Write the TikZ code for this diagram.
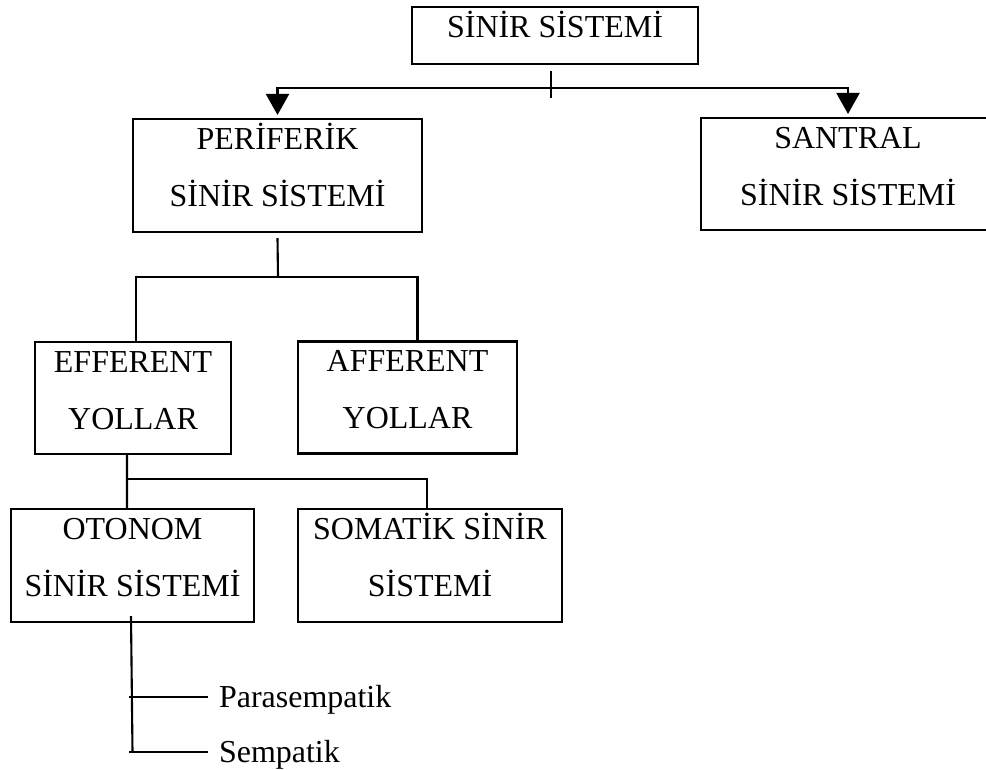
\documentclass[tikz,border=0pt]{standalone}
\usepackage{fontspec}
\setmainfont{Liberation Serif}
\usetikzlibrary{arrows.meta}
\newcommand{\linew}{1.2pt}
\newcommand{\tipw}{0.46cm}
\newcommand{\tipl}{0.42cm}
\newcommand{\boxfont}{\fontsize{18.2}{32.4}\selectfont}

\begin{document}
\begin{tikzpicture}[x=0.02cm, y=-0.02cm, line width=\linew,
  oneline/.style={draw, rectangle, inner sep=0pt, text height=0.42cm, text depth=0.36cm, font=\boxfont},
  twoline/.style={draw, rectangle, align=center, inner sep=0pt, text height=1.56cm, text depth=0.32cm, font=\boxfont},
  leaf/.style={inner xsep=0.2cm, inner ysep=0pt, text height=0.42cm, text depth=0pt, font=\boxfont},
  downarrow/.style={-{Triangle[width=\tipw,length=\tipl]}}]
\useasboundingbox (0,0) rectangle (986,769);
\clip (0,0) rectangle (986,769);
\node[oneline, minimum width=5.72cm, minimum height=1.14cm] (sinir) at (555,35.5) {SİNİR SİSTEMİ};
\node[twoline, minimum width=5.78cm, minimum height=2.26cm] (periferik) at (277.5,175.5) {PERİFERİK\\SİNİR SİSTEMİ};
\node[twoline, minimum width=5.88cm, minimum height=2.24cm] (santral) at (848,174) {SANTRAL\\SİNİR SİSTEMİ};
\node[twoline, minimum width=3.92cm, minimum height=2.24cm] (efferent) at (133,398) {EFFERENT\\YOLLAR};
\node[twoline, minimum width=4.38cm, minimum height=2.24cm] (afferent) at (407.5,397.5) {AFFERENT\\YOLLAR};
\node[twoline, minimum width=4.86cm, minimum height=2.26cm] (otonom) at (132.5,565.5) {OTONOM\\SİNİR SİSTEMİ};
\node[twoline, minimum width=5.28cm, minimum height=2.26cm] (somatik) at (430,565.5) {SOMATİK SİNİR\\SİSTEMİ};
\node[leaf, anchor=west] (para) at (208,697) {Parasempatik};
\node[leaf, anchor=west] (semp) at (208,752) {Sempatik};
% top split
\coordinate (hub) at (551,88);
\draw ([yshift=-0.12cm]hub |- sinir.south) -- ([yshift=-0.2cm]hub);
\draw[downarrow] (hub) -| ([yshift=0.06cm]periferik.north);
\draw[downarrow] (hub) -| ([yshift=0.06cm]santral.north);
% periferik
\coordinate (split1) at (278,277);
\draw ([yshift=-0.1cm]periferik.south) -- (split1);
\draw ([xshift=0.06cm]efferent.north) |- (split1) -| ([xshift=0.2cm]afferent.north);
% efferent
\coordinate (split2) at (127,479);
\draw ([xshift=-0.12cm]efferent.south) -- ([xshift=-0.11cm]otonom.north);
\draw (split2) -| ([xshift=-0.06cm]somatik.north);
% otonom
\draw ([xshift=-0.03cm,yshift=0.14cm]otonom.south) -- (otonom.south |- semp.west);
\draw (otonom.south |- para.west) ++(-4,0) -- (para.west);
\draw (otonom.south |- semp.west) ++(-4,0) -- (semp.west);
\end{tikzpicture}
\end{document}
